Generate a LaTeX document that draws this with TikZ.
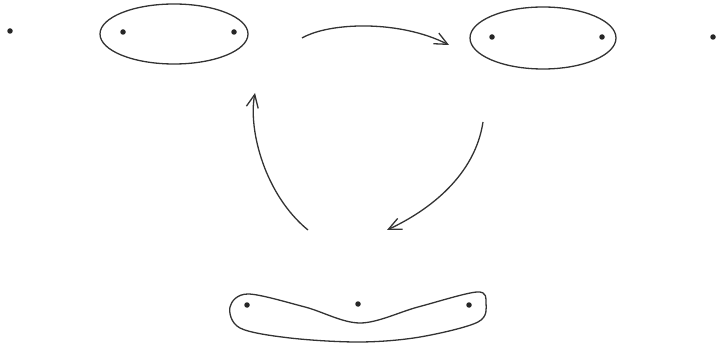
\documentclass[tikz,border=0pt]{standalone}
\usetikzlibrary{arrows.meta}
\begin{document}
\begin{tikzpicture}[x=1pt,y=-1pt,
  ln/.style={line width=1.3pt,draw=black!80},
  pt/.style={circle,fill=black!85,inner sep=0pt,minimum size=5.5pt},
  arr/.style={ln,-{Straight Barb[length=13pt,width=12pt,line width=1.3pt]}}]
\useasboundingbox (0,0) rectangle (717,347);
% dots
\node[pt] (d0) at (10,31) {};
\node[pt] (a1) at (123,32) {};
\node[pt] (a2) at (234,32) {};
\node[pt] (b1) at (492,37) {};
\node[pt] (b2) at (602,37) {};
\node[pt] (d5) at (713,37) {};
\node[pt] (c1) at (247,305) {};
\node[pt] (c2) at (358,304) {};
\node[pt] (c3) at (469,305) {};
% ellipses
\draw[ln] (174,34) ellipse [x radius=74, y radius=30];
\draw[ln] (543,38) ellipse [x radius=73, y radius=31];
% blob
\draw[ln] plot[smooth cycle, tension=0.55] coordinates {
  (248,294) (305,307) (360,323) (418,307) (477,292) (486,303) (478,322)
  (420,337) (360,342) (290,338) (240,328) (230,307)};
% arrows
\coordinate (s1) at (302,38);
\coordinate (e1) at (449,45);
\coordinate (s2) at (483,122);
\coordinate (e2) at (387,230);
\coordinate (s3) at (308,230);
\coordinate (e3) at (255,93);
\draw[arr] (s1) .. controls (330,22) and (400,20) .. (e1);
\draw[arr] (s2) .. controls (475,175) and (430,210) .. (e2);
\draw[arr] (s3) .. controls (265,195) and (248,130) .. (e3);
\end{tikzpicture}
\end{document}
